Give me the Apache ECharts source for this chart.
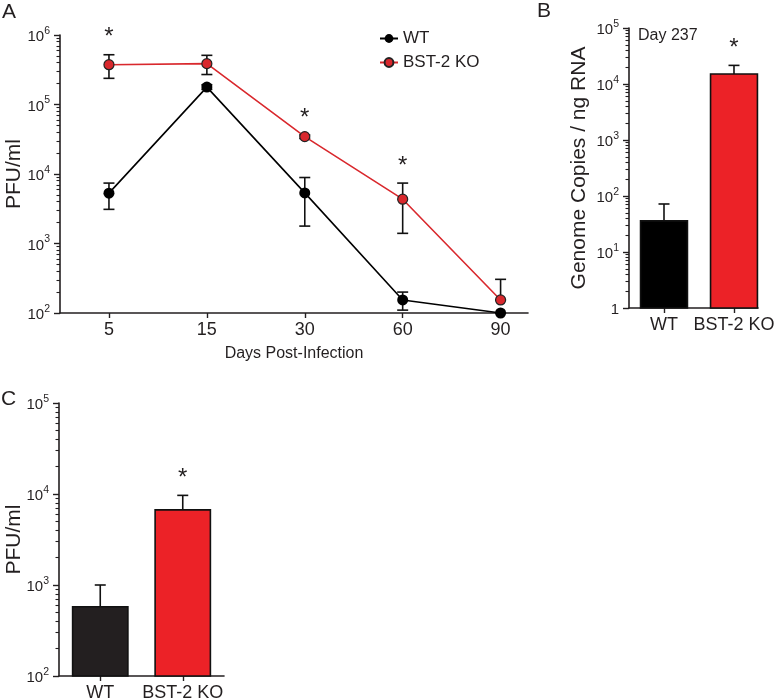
<!DOCTYPE html>
<html>
<head>
<meta charset="utf-8">
<script src="https://cdn.jsdelivr.net/npm/echarts@6/dist/echarts.min.js"></script>
<style>
html,body{margin:0;padding:0;background:#fff;}
#chart{width:779px;height:699px;}
</style>
</head>
<body>
<div id="chart"></div>
<script>
// ---------- Panel A data ----------
const daysA = ['5', '15', '30', '60', '90'];
const wtMean = [5300, 178000, 5350, 154, 100];
const wtUpper = [7400, 192000, 8900, 200, 100];
const wtLower = [3100, 165000, 1780, 110, 100];
const koMean = [374000, 387000, 34500, 4340, 154];
const koUpper = [520000, 510000, 36500, 7400, 305];
const koLower = [238000, 270000, 32500, 1400, 154];
const koSig = ['*', '', '*', '*', ''];

// ---------- Panel B data ----------
const groupsB = ['WT', 'BST-2 KO'];
const meanB = [36, 15100];
const upperB = [72, 21500];
const sigB = ['', '*'];

// ---------- Panel C data ----------
const groupsC = ['WT', 'BST-2 KO'];
const meanC = [577, 6700];
const upperC = [1000, 9660];
const sigC = ['', '*'];

const FONT = '"Liberation Sans", Arial, Helvetica, sans-serif';
const INK = '#231f20';
const RED_LINE = '#d9282d';
const RED_BAR = '#ec2227';

function minorLog(lo, hi) {
  const out = [];
  for (let d = lo; d < hi; d++) {
    for (let k = 2; k <= 9; k++) out.push(d + Math.log10(k));
  }
  return out;
}
function logLabel(v) {
  const e = Math.round(Math.log10(v));
  if (e === 0) return '{b|1}';
  return '{b|10}{s|' + e + '}';
}
const richLab = {
  b: { fontSize: 15, fontFamily: FONT, color: INK, lineHeight: 19, verticalAlign: 'bottom' },
  s: { fontSize: 10.5, fontFamily: FONT, color: INK, lineHeight: 19, verticalAlign: 'top' }
};
const axisLine = { show: true, onZero: false, lineStyle: { color: INK, width: 1.6 } };

function logY(grid, lo, hi, name, nameGap) {
  return {
    type: 'log', logBase: 10, gridIndex: grid, min: Math.pow(10, lo), max: Math.pow(10, hi),
    splitNumber: hi - lo,
    axisLine: axisLine,
    axisTick: { show: true, length: 6, lineStyle: { color: INK, width: 1.4 } },
    axisLabel: { formatter: logLabel, rich: richLab, margin: 10 },
    splitLine: { show: false },
    name: name, nameLocation: 'middle', nameRotate: 90, nameGap: nameGap, nameMoveOverlap: false,
    nameTextStyle: { fontFamily: FONT, fontSize: 21, color: INK }
  };
}
function minorY(grid, lo, hi) {
  return {
    type: 'value', gridIndex: grid, min: lo, max: hi, position: 'left', offset: 0,
    axisLine: { show: false, onZero: false },
    axisLabel: { show: false },
    splitLine: { show: false },
    axisTick: { show: true, length: 3.5, customValues: minorLog(lo, hi), lineStyle: { color: INK, width: 1.1 } }
  };
}
function catX(grid, labels, min, max, extra) {
  const idx = labels.map((_, i) => i);
  return Object.assign({
    type: 'value', gridIndex: grid, min: min, max: max,
    axisLine: axisLine,
    axisTick: { show: true, length: 5, customValues: idx, lineStyle: { color: INK, width: 1.4 } },
    axisLabel: {
      customValues: idx, margin: 8,
      formatter: v => labels[Math.round(v)],
      fontFamily: FONT, fontSize: 18, color: INK
    },
    splitLine: { show: false }
  }, extra || {});
}

function errorBarSeries(xi, yi, lower, upper, capBoth, z) {
  return {
    type: 'custom', xAxisIndex: xi, yAxisIndex: yi, z: z || 3, silent: true,
    data: upper.map((u, i) => [i, lower[i], u]),
    renderItem: function (params, api) {
      const x = api.value(0);
      const pLo = api.coord([x, api.value(1)]);
      const pHi = api.coord([x, api.value(2)]);
      const cap = 5.5;
      const st = { stroke: '#111', lineWidth: 1.6 };
      const ch = [
        { type: 'line', shape: { x1: pLo[0], y1: pLo[1], x2: pHi[0], y2: pHi[1] }, style: st },
        { type: 'line', shape: { x1: pHi[0] - cap, y1: pHi[1], x2: pHi[0] + cap, y2: pHi[1] }, style: st }
      ];
      if (capBoth) ch.push({ type: 'line', shape: { x1: pLo[0] - cap, y1: pLo[1], x2: pLo[0] + cap, y2: pLo[1] }, style: st });
      return { type: 'group', children: ch };
    }
  };
}
function barSeries(xi, yi, means, base, colors) {
  return {
    type: 'custom', xAxisIndex: xi, yAxisIndex: yi, z: 2, silent: true,
    data: means.map((m, i) => [i, m]),
    renderItem: function (params, api) {
      const x = api.value(0);
      const top = api.coord([x, api.value(1)]);
      const bot = api.coord([x, base]);
      const l = api.coord([x - 0.335, base])[0];
      const r = api.coord([x + 0.335, base])[0];
      return {
        type: 'rect',
        shape: { x: l, y: top[1], width: r - l, height: bot[1] - top[1] },
        style: { fill: colors[params.dataIndex], stroke: '#111', lineWidth: 1.6 }
      };
    }
  };
}
function sigSeries(xi, yi, upper, sig) {
  return {
    type: 'custom', xAxisIndex: xi, yAxisIndex: yi, z: 5, silent: true,
    data: upper.map((u, i) => [i, u]),
    renderItem: function (params, api) {
      const s = sig[params.dataIndex];
      if (!s) return null;
      const p = api.coord([api.value(0), api.value(1)]);
      return {
        type: 'text', x: p[0], y: p[1] - 17,
        style: { text: s, fill: INK, font: '24px ' + FONT, textAlign: 'center', textVerticalAlign: 'middle' }
      };
    }
  };
}

const chart = echarts.init(document.getElementById('chart'), null, { renderer: 'canvas' });
const option = {
  animation: false,
  backgroundColor: '#ffffff',
  textStyle: { fontFamily: FONT },
  grid: [
    { left: 60, top: 35, width: 468, height: 278, containLabel: false, outerBoundsMode: 'none' },
    { left: 629, top: 28, width: 129, height: 280, containLabel: false, outerBoundsMode: 'none' },
    { left: 59, top: 403, width: 165, height: 273, containLabel: false, outerBoundsMode: 'none' }
  ],
  xAxis: [
    catX(0, daysA, -0.5, 4.28, {
      name: 'Days Post-Infection', nameLocation: 'middle', nameGap: 33, nameMoveOverlap: false,
      nameTextStyle: { fontFamily: FONT, fontSize: 16, color: INK }
    }),
    catX(1, groupsB, -0.5, 1.343),
    catX(2, groupsC, -0.5, 1.5)
  ],
  yAxis: [
    logY(0, 2, 6, 'PFU/ml', 35),
    minorY(0, 2, 6),
    logY(1, 0, 5, 'Genome Copies / ng RNA', 39),
    minorY(1, 0, 5),
    logY(2, 2, 5, 'PFU/ml', 34),
    minorY(2, 2, 5)
  ],
  legend: {
    orient: 'vertical', left: 374, top: 25, itemGap: 7,
    itemWidth: 18, itemHeight: 11,
    textStyle: { fontFamily: FONT, fontSize: 17, color: INK },
    data: ['WT', 'BST-2 KO']
  },
  graphic: [
    { type: 'text', left: 2, top: 2, style: { text: 'A', font: '21px ' + FONT, fill: INK } },
    { type: 'text', left: 537, top: 1, style: { text: 'B', font: '21px ' + FONT, fill: INK } },
    { type: 'text', left: 1, top: 389, style: { text: 'C', font: '21px ' + FONT, fill: INK } },
    { type: 'text', left: 638, top: 28, style: { text: 'Day 237', font: '16px ' + FONT, fill: INK } }
  ],
  series: [
    errorBarSeries(0, 0, wtLower, wtUpper, true, 3),
    errorBarSeries(0, 0, koLower, koUpper, true, 3),
    {
      name: 'WT', type: 'line', xAxisIndex: 0, yAxisIndex: 0, z: 4,
      data: wtMean.map((v, i) => [i, v]),
      symbol: 'circle', symbolSize: 11,
      lineStyle: { color: '#000', width: 1.6 },
      itemStyle: { color: '#000', borderColor: '#000', borderWidth: 0 }
    },
    {
      name: 'BST-2 KO', type: 'line', xAxisIndex: 0, yAxisIndex: 0, z: 4,
      data: koMean.map((v, i) => [i, v]),
      symbol: 'circle', symbolSize: 10,
      lineStyle: { color: RED_LINE, width: 1.6 },
      itemStyle: { color: RED_LINE, borderColor: '#222', borderWidth: 1.2 }
    },
    sigSeries(0, 0, koUpper, koSig),

    barSeries(1, 2, meanB, 1, ['#000000', RED_BAR]),
    errorBarSeries(1, 2, meanB, upperB, false, 1),
    sigSeries(1, 2, upperB, sigB),

    barSeries(2, 4, meanC, 100, ['#231f20', RED_BAR]),
    errorBarSeries(2, 4, meanC, upperC, false, 1),
    sigSeries(2, 4, upperC, sigC)
  ]
};
chart.setOption(option);
</script>
</body>
</html>
